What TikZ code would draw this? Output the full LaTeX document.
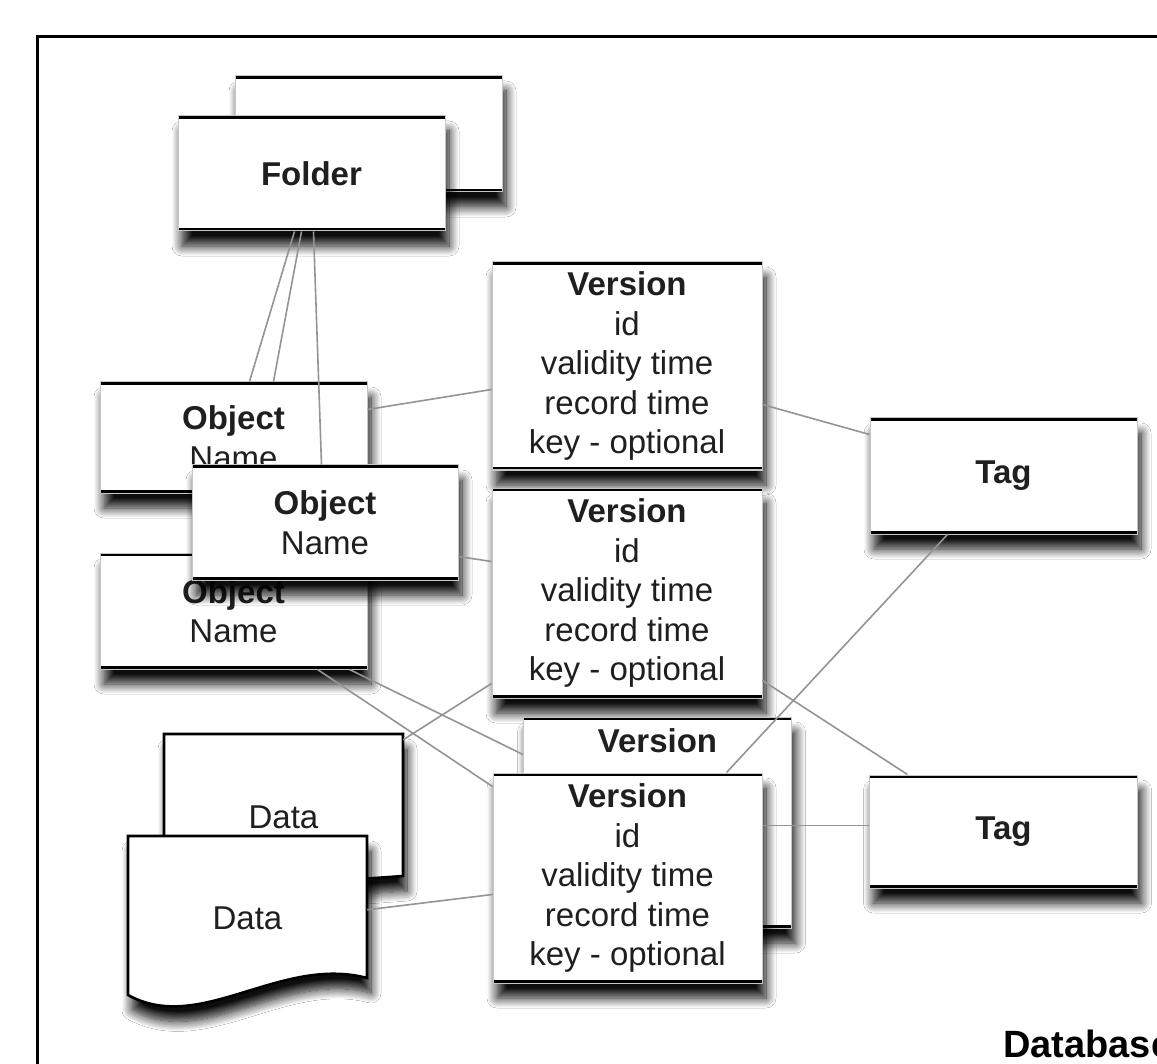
\documentclass[tikz,border=0pt]{standalone}
\usepackage{fontspec}
\setmainfont{Liberation Sans}
\usetikzlibrary{shadows.blur,calc}
\begin{document}
\begin{tikzpicture}[x=1pt,y=-1pt,
  shade box/.style={blur shadow={shadow xshift=4pt, shadow yshift=-15pt, shadow blur radius=10pt, shadow blur steps=12, shadow opacity=95}},
  box/.style={rectangle, draw=gray!45, line width=1pt, fill=white, inner sep=0pt, align=center,
    text=black!88, font=\fontsize{33}{39.5}\selectfont, shade box,
    path picture={\draw[black, line width=6pt]
      (path picture bounding box.north west) -- (path picture bounding box.north east)
      (path picture bounding box.south west) -- (path picture bounding box.south east);}},
  datashape/.style={draw=black, line width=2.6pt, fill=white, shade box},
  datatext/.style={rectangle, inner sep=0pt, minimum width=239pt, text=black!88, font=\fontsize{33}{39.5}\selectfont},
  conn/.style={draw=black!42, line width=1.6pt},
]
\useasboundingbox (0,0) rectangle (1157,1064);
\clip (0,0) rectangle (1157,1064);
\fill[white] (0,0) rectangle (1157,1064);

% outer frame
\draw[line width=3pt] (37,37) rectangle (1300,1200);

% folders
\node[box, minimum width=267pt, minimum height=116pt] (folderB) at (368.5,134) {};
\node[box, minimum width=267pt, minimum height=115pt] (folder) at (311.5,173.5) {\bfseries Folder};

% tags
\node[box, minimum width=267pt, minimum height=116pt] (tag1) at (1003.5,476) {\bfseries Tag};
\node[box, minimum width=268pt, minimum height=113pt] (tag2) at (1003.5,831.5) {\bfseries Tag};

% versions
\node[box, minimum width=270pt, minimum height=208pt] (v1) at (627,366)
  {\bfseries Version\\id\\validity time\\record time\\key - optional};
\node[box, minimum width=270pt, minimum height=210pt] (v2) at (627,593)
  {\bfseries Version\\id\\validity time\\record time\\key - optional};
\node[box, minimum width=268pt, minimum height=211pt] (v3) at (657.5,822.5)
  {\bfseries Version\\\phantom{id}\\\phantom{validity time}\\\phantom{record time}\\\phantom{key - optional}};

% objects
\node[box, minimum width=267pt, minimum height=111pt] (obj1) at (233.5,437.5) {\bfseries Object\\Name};

% folder connectors
\draw[conn] ([xshift=117pt]folder.south west) -- ([xshift=150pt]obj1.north west);
\draw[conn] ([xshift=124pt]folder.south west) -- ([xshift=174pt]obj1.north west);

\node[box, minimum width=267pt, minimum height=116pt] (obj3) at (233.5,611) {\bfseries Object\\Name};
\node[box, minimum width=266pt, minimum height=115pt] (obj2) at (325,522.5) {\bfseries Object\\Name};

% data documents
\path[datashape] (164,734) -- (403,734) -- (403,876) -- (164,893) -- cycle;
\node[datatext, minimum height=166pt] (dataB) at (283.5,817) {Data};
\path[datashape] (128,836) -- (367,836) -- (367,978)
  .. controls (280,955) and (200,1035) .. (128,995) -- cycle;
\node[datatext, minimum height=164pt] (dataF) at (247.5,918) {Data};

% tag1 -> version 3 (behind front version)
\draw[conn] ([xshift=78pt]tag1.south west) -- ([xshift=203.5pt,yshift=-56pt]v3.north west);

\node[box, minimum width=269pt, minimum height=210pt] (v4) at (627.5,878)
  {\bfseries Version\\id\\validity time\\record time\\key - optional};

% connectors
\draw[conn] ([xshift=136pt]folder.south west) -- ([xshift=130pt]obj2.north west);
\draw[conn] ([yshift=-28pt]obj1.north east) -- ([yshift=-128pt]v1.north west);
\draw[conn] ([yshift=-92pt]obj2.north east) -- ([yshift=-74pt]v2.north west);
\draw[conn] ([xshift=218pt]obj3.south west) -- ([yshift=-14pt]v4.north west);
\draw[conn] ([xshift=250pt]obj3.south west) -- ([yshift=-38pt]v3.north west);
\draw[conn] ([yshift=-6pt]dataB.north east) -- ([yshift=15pt]v2.south west);
\draw[conn] ([yshift=-74pt]dataF.north east) -- ([yshift=-122pt]v4.north west);
\draw[conn] ([yshift=-143pt]v1.north east) -- ([yshift=-17pt]tag1.north west);
\draw[conn] ([yshift=18pt]v2.south east) -- ([xshift=38.5pt]tag2.north west);
\draw[conn] ([yshift=-53pt]v4.north east) -- ([yshift=-51pt]tag2.north west);

% caption
\node[anchor=base west, inner sep=0pt, font=\bfseries\fontsize{38}{40}\selectfont] (db) at (1003,1057) {Database};
\end{tikzpicture}
\end{document}
